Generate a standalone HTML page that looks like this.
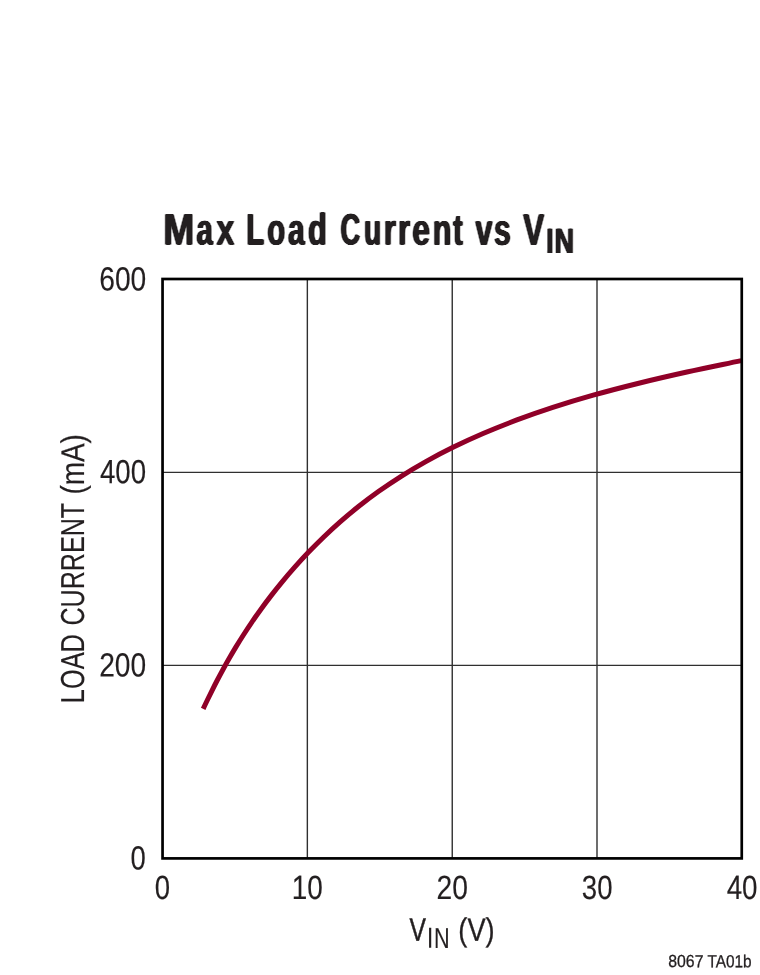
<!DOCTYPE html>
<html lang="en">
<head>
<meta charset="utf-8">
<title>Max Load Current vs VIN</title>
<style>
html,body{margin:0;padding:0;background:#fff;}
body{width:760px;height:975px;overflow:hidden;}
svg{display:block;}
text{font-family:"Liberation Sans",sans-serif;text-rendering:geometricPrecision;fill:#231f20;stroke:#231f20;stroke-width:0.15px;stroke-linejoin:miter;}
.b{font-weight:700;stroke-width:0.00px;}
.s{stroke-width:0.30px;}
</style>
</head>
<body>
<svg width="760" height="975" viewBox="0 0 760 975">
<rect width="760" height="975" fill="#ffffff"/>
<defs><filter id="hb" x="-5%" y="-20%" width="110%" height="140%" color-interpolation-filters="sRGB"><feConvolveMatrix in="SourceAlpha" order="3 1" kernelMatrix="0.600 1 0.600" divisor="1" edgeMode="none" preserveAlpha="false" result="a"/><feFlood flood-color="#231f20"/><feComposite in2="a" operator="in"/></filter></defs>
<g stroke="#303030" stroke-width="1.40" fill="none">
<line x1="307.35" y1="279.00" x2="307.35" y2="858.40"/>
<line x1="452.25" y1="279.00" x2="452.25" y2="858.40"/>
<line x1="597.00" y1="279.00" x2="597.00" y2="858.40"/>
<line x1="162.55" y1="472.35" x2="741.75" y2="472.35"/>
<line x1="162.55" y1="665.33" x2="741.75" y2="665.33"/>
</g>
<path d="M203.20 708.81C204.60 705.86 205.92 703.02 207.39 699.97C208.86 696.92 210.40 693.77 212.02 690.53C213.64 687.29 215.33 683.95 217.12 680.51C218.91 677.08 220.78 673.55 222.75 669.93C224.73 666.32 226.79 662.61 228.97 658.81C231.15 655.02 233.42 651.13 235.83 647.16C238.23 643.20 240.74 639.14 243.40 635.00C246.05 630.87 248.82 626.65 251.75 622.35C254.68 618.06 257.74 613.68 260.97 609.23C264.20 604.78 267.57 600.25 271.14 595.65C274.70 591.05 278.43 586.37 282.36 581.62C286.29 576.88 290.40 572.06 294.74 567.18C299.09 562.30 303.62 557.33 308.41 552.34C313.20 547.34 318.21 542.27 323.49 537.20C328.78 532.13 334.30 527.01 340.13 521.90C345.97 516.80 352.06 511.66 358.50 506.56C364.94 501.47 371.66 496.36 378.76 491.32C385.87 486.27 393.29 481.24 401.13 476.29C408.97 471.34 417.15 466.44 425.80 461.61C434.45 456.78 443.49 452.02 453.03 447.34C462.58 442.66 472.55 438.05 483.08 433.53C493.62 429.00 504.62 424.56 516.24 420.21C527.87 415.86 540.01 411.59 552.83 407.42C565.66 403.26 579.06 399.20 593.21 395.21C607.37 391.22 622.15 387.35 637.77 383.49C653.39 379.63 669.70 375.86 686.94 372.05C704.18 368.25 723.11 364.46 741.20 360.66" fill="none" stroke="#900028" stroke-width="5.00" stroke-linecap="butt" stroke-linejoin="round"/>
<rect x="162.55" y="279.00" width="579.20" height="579.40" fill="none" stroke="#000000" stroke-width="2.70"/>
<g filter="url(#hb)">
<text class="b" transform="rotate(0.05 369.0 244.6)" y="244.60" font-size="44.10"><tspan x="163.34" textLength="31.09" lengthAdjust="spacingAndGlyphs">M</tspan><tspan x="196.51" textLength="16.28" lengthAdjust="spacingAndGlyphs">a</tspan><tspan x="216.59" textLength="17.75" lengthAdjust="spacingAndGlyphs">x</tspan> <tspan x="246.31" textLength="17.93" lengthAdjust="spacingAndGlyphs">L</tspan><tspan x="267.26" textLength="17.91" lengthAdjust="spacingAndGlyphs">o</tspan><tspan x="288.01" textLength="16.61" lengthAdjust="spacingAndGlyphs">a</tspan><tspan x="308.04" textLength="18.83" lengthAdjust="spacingAndGlyphs">d</tspan> <tspan x="340.58" textLength="19.64" lengthAdjust="spacingAndGlyphs">C</tspan><tspan x="363.96" textLength="17.18" lengthAdjust="spacingAndGlyphs">u</tspan><tspan x="383.81" textLength="12.08" lengthAdjust="spacingAndGlyphs">r</tspan><tspan x="397.89" textLength="11.95" lengthAdjust="spacingAndGlyphs">r</tspan><tspan x="412.24" textLength="17.71" lengthAdjust="spacingAndGlyphs">e</tspan><tspan x="432.77" textLength="18.61" lengthAdjust="spacingAndGlyphs">n</tspan><tspan x="453.28" textLength="9.43" lengthAdjust="spacingAndGlyphs">t</tspan> <tspan x="475.57" textLength="16.87" lengthAdjust="spacingAndGlyphs">v</tspan><tspan x="494.06" textLength="16.73" lengthAdjust="spacingAndGlyphs">s</tspan> <tspan x="523.28" textLength="20.84" lengthAdjust="spacingAndGlyphs">V</tspan><tspan x="546.34" textLength="7.14" lengthAdjust="spacingAndGlyphs" y="252.80" font-size="35.40">I</tspan><tspan x="554.82" textLength="19.23" lengthAdjust="spacingAndGlyphs" y="252.80" font-size="35.40">N</tspan></text>
</g>
<text transform="rotate(0.05 122.9 290.6)" y="290.55" font-size="33.70"><tspan x="99.22" textLength="47.02" lengthAdjust="spacingAndGlyphs">600</tspan></text>
<text transform="rotate(0.05 122.8 483.3)" y="483.30" font-size="33.70"><tspan x="99.96" textLength="46.10" lengthAdjust="spacingAndGlyphs">400</tspan></text>
<text transform="rotate(0.05 122.8 676.5)" y="676.50" font-size="33.70"><tspan x="99.16" textLength="46.96" lengthAdjust="spacingAndGlyphs">200</tspan></text>
<text transform="rotate(0.05 138.1 869.6)" y="869.60" font-size="33.70"><tspan x="130.52" textLength="15.28" lengthAdjust="spacingAndGlyphs">0</tspan></text>
<text transform="rotate(0.05 162.4 899.0)" y="899.00" font-size="33.70"><tspan x="154.66" textLength="15.31" lengthAdjust="spacingAndGlyphs">0</tspan></text>
<text transform="rotate(0.05 307.9 899.0)" y="899.00" font-size="33.70"><tspan x="291.81" textLength="31.08" lengthAdjust="spacingAndGlyphs">10</tspan></text>
<text transform="rotate(0.05 452.4 899.0)" y="899.00" font-size="33.70"><tspan x="436.52" textLength="31.42" lengthAdjust="spacingAndGlyphs">20</tspan></text>
<text transform="rotate(0.05 597.2 899.0)" y="899.00" font-size="33.70"><tspan x="581.80" textLength="30.69" lengthAdjust="spacingAndGlyphs">30</tspan></text>
<text transform="rotate(0.05 741.8 899.0)" y="899.00" font-size="33.70"><tspan x="726.64" textLength="30.94" lengthAdjust="spacingAndGlyphs">40</tspan></text>
<text transform="rotate(0.05 451.3 940.9)" y="940.85" font-size="32.30"><tspan x="409.43" textLength="16.40" lengthAdjust="spacingAndGlyphs" stroke-width="0.50">V</tspan><tspan x="427.08" textLength="6.20" lengthAdjust="spacingAndGlyphs" y="947.90" font-size="28.90">I</tspan><tspan x="434.01" textLength="15.63" lengthAdjust="spacingAndGlyphs" y="947.90" font-size="28.90">N</tspan> <tspan x="458.35" textLength="36.31" lengthAdjust="spacingAndGlyphs" y="940.85" stroke-width="0.30">(V)</tspan></text>
<text transform="translate(84.05 568.58) rotate(-89.95) translate(0 0.00)" y="0" font-size="33.20"><tspan x="-134.66" textLength="69.14" lengthAdjust="spacingAndGlyphs">LOAD</tspan> <tspan x="-56.96" textLength="122.26" lengthAdjust="spacingAndGlyphs">CURRENT</tspan> <tspan x="73.97" textLength="60.46" lengthAdjust="spacingAndGlyphs">(mA)</tspan></text>
<text class="s" transform="rotate(0.05 710.0 967.1)" y="967.15" font-size="17.50"><tspan x="668.28" textLength="35.17" lengthAdjust="spacingAndGlyphs">8067</tspan> <tspan x="707.44" textLength="44.17" lengthAdjust="spacingAndGlyphs">TA01b</tspan></text>
</svg>
</body>
</html>
